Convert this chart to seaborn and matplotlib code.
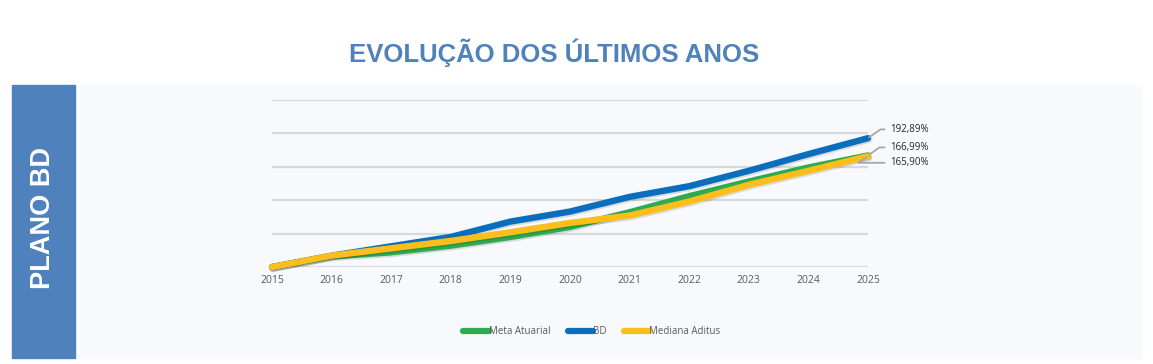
import matplotlib
matplotlib.use("Agg")
import matplotlib.pyplot as plt
import matplotlib.patheffects as pe
import pandas as pd
import seaborn as sns

# Data (cumulative %, 2015 = 0)
anos = [2015, 2016, 2017, 2018, 2019, 2020, 2021, 2022, 2023, 2024, 2025]
meta_atuarial = [0, 16, 22, 32, 45, 60, 82, 106, 128, 149, 166.99]
bd = [0, 17, 31, 45, 68, 83, 105, 121, 144, 169, 192.89]
mediana_aditus = [0, 17, 28, 39, 52, 66, 77, 98, 123, 144, 165.90]
series = ["Meta Atuarial", "BD", "Mediana Aditus"]
end_labels = ["166,99%", "192,89%", "165,90%"]
colors = ["#2EAA4F", "#0A6EBD", "#FBBE1A"]

df = pd.DataFrame({"Ano": anos, "Meta Atuarial": meta_atuarial, "BD": bd,
                   "Mediana Aditus": mediana_aditus})
long_df = df.melt(id_vars="Ano", var_name="Serie", value_name="Valor")

sns.set_style("white")
plt.rcParams["font.family"] = ["Open Sans", "DejaVu Sans"]

W, H = 1153, 364
fig = plt.figure(figsize=(W / 100, H / 100), dpi=100)
fig.patch.set_facecolor("white")

# background panels
fig.patches.append(plt.Rectangle((12 / W, 1 - 358 / H), 63 / W, 273 / H,
                                 transform=fig.transFigure, color="#4F81BD", zorder=-1))
fig.patches.append(plt.Rectangle((80 / W, 1 - 358 / H), 1061 / W, 273 / H,
                                 transform=fig.transFigure, color="#F7F9FD", zorder=-1))

fig.text(554 / W, 1 - 53 / H, "EVOLUÇÃO DOS ÚLTIMOS ANOS", ha="center", va="center",
         fontsize=18.5, fontweight="bold", color="#4F81BD", family="Liberation Sans")
fig.text(43 / W, 1 - 218 / H, "PLANO BD", ha="center", va="center", rotation=90,
         fontsize=19.5, fontweight="bold", color="white", family="Liberation Sans")

ax = fig.add_axes([272 / W, 1 - 267 / H, 596 / W, 167 / H])
ax.set_zorder(2)
ax.set_facecolor("none")

sns.lineplot(data=long_df, x="Ano", y="Valor", hue="Serie", hue_order=series,
             palette=colors, linewidth=4.6, ax=ax, clip_on=False, legend=True,
             path_effects=[pe.SimpleLineShadow(offset=(0.6, -1.2), alpha=0.12),
                           pe.Normal()])

ax.set_xlim(2015, 2025)
ax.set_ylim(0, 250)
ax.set_yticks([0, 50, 100, 150, 200, 250])
ax.set_yticklabels([])
ax.set_xticks(anos)
ax.set_xticklabels([str(a) for a in anos])
ax.tick_params(axis="x", length=0, pad=6, labelsize=7.5, labelcolor="#595959")
ax.tick_params(axis="y", length=0)
ax.grid(axis="y", color="#D9D9D9", linewidth=1.6)
ax.set_axisbelow(True)
for s in ax.spines.values():
    s.set_visible(False)
ax.set_xlabel("")
ax.set_ylabel("")

# end labels with leader lines
label_text_y = [179, 206, 156]
for name, txt, ly in zip(series, end_labels, label_text_y):
    v = df[name].iloc[-1]
    ax.annotate(txt, xy=(2025, v), xytext=(2025.38, ly), textcoords="data",
                fontsize=7, color="#262626", va="center", ha="left",
                annotation_clip=False,
                arrowprops=dict(arrowstyle="-", color="#A6A6A6", lw=1.3,
                                connectionstyle="angle,angleA=0,angleB=35,rad=0",
                                shrinkA=2, shrinkB=1))

leg = ax.legend(loc="center", bbox_to_anchor=(592 / W, 1 - 332 / H),
                bbox_transform=fig.transFigure, ncol=3, frameon=False, fontsize=7,
                handlelength=2.6, handletextpad=0.0, columnspacing=1.8)
for t in leg.get_texts():
    t.set_color("#595959")
for line in leg.get_lines():
    line.set_linewidth(4.5)
    line.set_solid_capstyle("round")
    line.set_path_effects([pe.Normal()])

fig.savefig("out.png", dpi=100)
